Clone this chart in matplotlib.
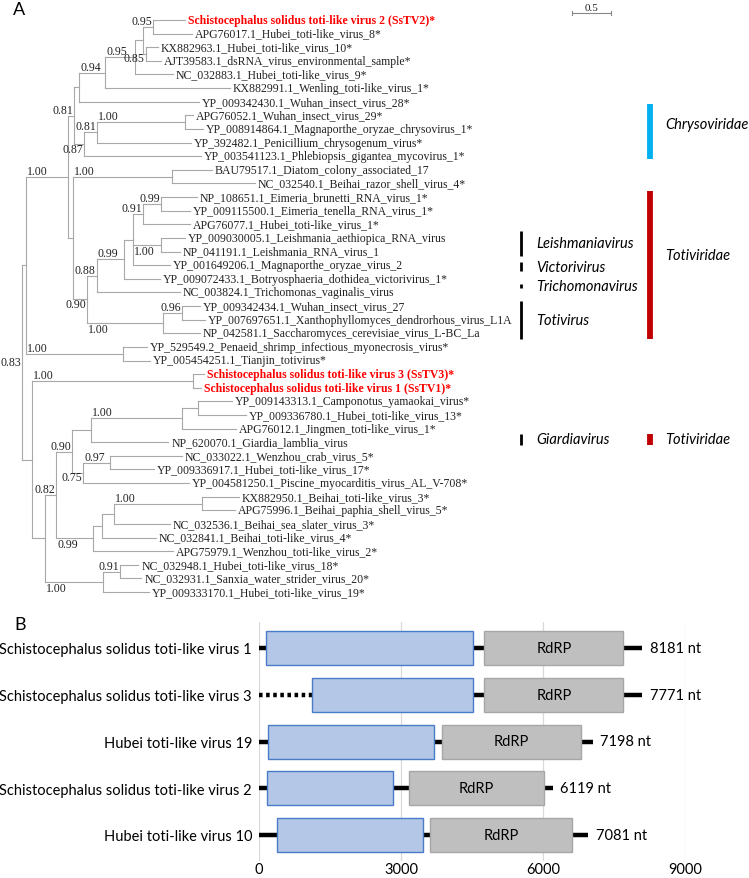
import matplotlib.pyplot as plt
from matplotlib.patches import Rectangle

# ---------------- Panel A: phylogeny ----------------
tip_names = [
    "Schistocephalus solidus toti-like virus 2 (SsTV2)*",
    "APG76017.1_Hubei_toti-like_virus_8*",
    "KX882963.1_Hubei_toti-like_virus_10*",
    "AJT39583.1_dsRNA_virus_environmental_sample*",
    "NC_032883.1_Hubei_toti-like_virus_9*",
    "KX882991.1_Wenling_toti-like_virus_1*",
    "YP_009342430.1_Wuhan_insect_virus_28*",
    "APG76052.1_Wuhan_insect_virus_29*",
    "YP_008914864.1_Magnaporthe_oryzae_chrysovirus_1*",
    "YP_392482.1_Penicillium_chrysogenum_virus*",
    "YP_003541123.1_Phlebiopsis_gigantea_mycovirus_1*",
    "BAU79517.1_Diatom_colony_associated_17",
    "NC_032540.1_Beihai_razor_shell_virus_4*",
    "NP_108651.1_Eimeria_brunetti_RNA_virus_1*",
    "YP_009115500.1_Eimeria_tenella_RNA_virus_1*",
    "APG76077.1_Hubei_toti-like_virus_1*",
    "YP_009030005.1_Leishmania_aethiopica_RNA_virus",
    "NP_041191.1_Leishmania_RNA_virus_1",
    "YP_001649206.1_Magnaporthe_oryzae_virus_2",
    "YP_009072433.1_Botryosphaeria_dothidea_victorivirus_1*",
    "NC_003824.1_Trichomonas_vaginalis_virus",
    "YP_009342434.1_Wuhan_insect_virus_27",
    "YP_007697651.1_Xanthophyllomyces_dendrorhous_virus_L1A",
    "NP_042581.1_Saccharomyces_cerevisiae_virus_L-BC_La",
    "YP_529549.2_Penaeid_shrimp_infectious_myonecrosis_virus*",
    "YP_005454251.1_Tianjin_totivirus*",
    "Schistocephalus solidus toti-like virus 3 (SsTV3)*",
    "Schistocephalus solidus toti-like virus 1 (SsTV1)*",
    "YP_009143313.1_Camponotus_yamaokai_virus*",
    "YP_009336780.1_Hubei_toti-like_virus_13*",
    "APG76012.1_Jingmen_toti-like_virus_1*",
    "NP_620070.1_Giardia_lamblia_virus",
    "NC_033022.1_Wenzhou_crab_virus_5*",
    "YP_009336917.1_Hubei_toti-like_virus_17*",
    "YP_004581250.1_Piscine_myocarditis_virus_AL_V-708*",
    "KX882950.1_Beihai_toti-like_virus_3*",
    "APG75996.1_Beihai_paphia_shell_virus_5*",
    "NC_032536.1_Beihai_sea_slater_virus_3*",
    "NC_032841.1_Beihai_toti-like_virus_4*",
    "APG75979.1_Wenzhou_toti-like_virus_2*",
    "NC_032948.1_Hubei_toti-like_virus_18*",
    "NC_032931.1_Sanxia_water_strider_virus_20*",
    "YP_009333170.1_Hubei_toti-like_virus_19*",
]
red_tips = [0, 26, 27]

# tree with tip ids t0..t42 and named internal nodes, branch lengths in substitutions/site
newick = (
    "(((((((((t0:0.41,t1:0.5)T1:0.128,(t2:0.154,t3:0.192)T2:0.038)T3:0.103,t4:0.487)T4:0.385,"
    "t5:1.603)T5:0.333,t6:1.538)T6:0.064,(((t7:0.103,t8:0.231)N1:1.128,t9:1.205)N2:0.167,"
    "t10:1.5)N3:0.128)H:0.077,((t11:0.513,t12:1.064)BN:1.269,((((((t13:0.462,t14:0.372)E1:0.231,"
    "t15:0.603)E2:0.128,(t16:0.308,t17:0.244)L1:0.359,t18:0.474)E3:0.115,t19:0.462)V:0.346,"
    "t20:1.064)W:0.128,((t21:0.231,t22:0.295)S2:0.244,t23:0.474)S1:0.974)TV2:0.179)K:0.064)G:0.538,"
    "(t24:0.308,t25:0.346)P:1.244)U:0.051,"
    "((t26:0.141,t27:0.103)SS:2.064,((((((t28:0.436,t29:0.615)J3:0.205,t30:0.692)J2:1.167,"
    "t31:0.987)J:0.244,((t32:0.923,t33:0.564)Q2:0.346,t34:1.359)Q:0.141)Gi:0.205,"
    "((((t35:0.474,t36:0.423)B4:1.128,t37:0.718)B3:0.154,t38:0.692)B2:0.115,t39:1.026)B:0.474)N:0.141,"
    "((t40:0.231,t41:0.269)H2:0.218,t42:0.59)H1:0.744)M:0.167)L0:0.128)R;"
)

support = {"T1": 0.95, "T2": 0.85, "T4": 0.95, "T5": 0.94, "H": 0.81, "N1": 1.00,
           "N2": 0.81, "N3": 0.87, "G": 1.00, "BN": 1.00, "E1": 0.99, "E2": 0.91,
           "L1": 1.00, "V": 0.99, "W": 0.88, "TV2": 0.90, "S2": 0.96, "S1": 1.00,
           "P": 1.00, "R": 0.83, "SS": 1.00, "N": 0.82, "Gi": 0.90, "J2": 1.00,
           "Q": 0.75, "Q2": 0.97, "B": 0.99, "B4": 1.00, "H1": 1.00, "H2": 0.91}
# where each support value sits: n = at node, p = at start of branch; a/b/c = above/below/centre
label_pos = {"T1": "na", "T2": "nb", "T4": "pa", "T5": "pa", "H": "na", "N1": "pa",
             "N2": "na", "N3": "nb", "G": "pa", "BN": "pa", "E1": "na", "E2": "na",
             "L1": "pb", "V": "pa", "W": "na", "TV2": "nb", "S2": "na", "S1": "pb",
             "P": "pa", "R": "nc", "SS": "pa", "N": "na", "Gi": "na", "J2": "pa",
             "Q": "nb", "Q2": "pa", "B": "pb", "B4": "pa", "H1": "pb", "H2": "na"}

family_names = ["Chrysoviridae", "Totiviridae", "Totiviridae"]
family_span = [(6.2, 10.2), (12.55, 23.4), (30.4, 31.2)]
family_text_y = [7.6, 17.25, 30.8]
family_colors = ["#00b0f0", "#c00000", "#c00000"]
genus_names = ["Leishmaniavirus", "Victorivirus", "Trichomonavirus", "Totivirus", "Giardiavirus"]
genus_span = [(15.5, 17.3), (17.8, 18.4), (19.4, 19.7), (20.6, 23.4), (30.4, 31.2)]

# ---------------- Panel B: genome maps ----------------
genomes = ["Schistocephalus solidus toti-like virus 1", "Schistocephalus solidus toti-like virus 3",
           "Hubei toti-like virus 19", "Schistocephalus solidus toti-like virus 2",
           "Hubei toti-like virus 10"]
genome_nt = [8181, 7771, 7198, 6119, 7081]
line_end = [8100, 8100, 7050, 6210, 6960]
orf1_start = [140, 1130, 190, 170, 380]
orf1_end = [4530, 4530, 3690, 2830, 3460]
rdrp_start = [4760, 4760, 3860, 3160, 3620]
rdrp_end = [7700, 7700, 6800, 6030, 6620]
partial_5p = [False, True, False, False, False]


def parse(s):
    pos = 0

    def node():
        nonlocal pos
        kids = []
        if s[pos] == "(":
            pos += 1
            while True:
                kids.append(node())
                if s[pos] == ",":
                    pos += 1
                else:
                    break
            pos += 1
        start = pos
        while s[pos] not in ":,);":
            pos += 1
        name = s[start:pos]
        length = 0.0
        if s[pos] == ":":
            pos += 1
            start = pos
            while s[pos] not in ",);":
                pos += 1
            length = float(s[start:pos])
        return {"name": name, "len": length, "kids": kids}

    return node()


def layout(n, x0):
    n["px"] = x0
    n["x"] = x0 + n["len"]
    if n["kids"]:
        for k in n["kids"]:
            layout(k, n["x"])
        n["y"] = (n["kids"][0]["y"] + n["kids"][-1]["y"]) / 2
    else:
        n["y"] = int(n["name"][1:])


def walk(n):
    yield n
    for k in n["kids"]:
        yield from walk(k)


tree = parse(newick)
layout(tree, 0.0)

fig = plt.figure(figsize=(7.49, 8.79), dpi=100)
W_PX, H_PX = 749, 879
ax = fig.add_axes([0, 1 - 610 / H_PX, 1, 610 / H_PX])
ax.set_xlim(-22 / 78, (W_PX - 22) / 78)
ax.set_ylim((610 - 21) / 13.62, -21 / 13.62)
ax.axis("off")

serif = "Liberation Serif"
line_c = "#a8a8a8"
for n in walk(tree):
    if n["kids"]:
        ax.plot([n["x"], n["x"]], [n["kids"][0]["y"], n["kids"][-1]["y"]], color=line_c, lw=0.8)
        for k in n["kids"]:
            ax.plot([n["x"], k["x"]], [k["y"], k["y"]], color=line_c, lw=0.8)
    else:
        i = n["y"]
        red = i in red_tips
        ax.text(n["x"] + 0.04, i, tip_names[i], va="center", ha="left", family=serif,
                fontsize=8.5, color="#ff0000" if red else "#222222",
                fontweight="bold" if red else "normal")
    if n["name"] in support:
        code = label_pos[n["name"]]
        dy = {"a": 4.3, "b": -3.2, "c": 0}[code[1]]
        if code[0] == "n":
            xy, dx, ha = (n["x"], n["y"]), -0.8, "right"
        else:
            xy, dx, ha = (n["px"], n["y"]), 0.8, "left"
        if code == "pb":
            dy = -4.3
        ax.annotate("%.2f" % support[n["name"]], xy, xytext=(dx, dy), textcoords="offset points",
                    ha=ha, va="center", family=serif, fontsize=8.5, color="#222222")

# scale bar
sb_x, sb_y = (572 - 22) / 78, (14 - 21) / 13.62
ax.plot([sb_x, sb_x + 0.5], [sb_y, sb_y], color="#888888", lw=0.8)
for xx in (sb_x, sb_x + 0.5):
    ax.plot([xx, xx], [sb_y - 0.18, sb_y + 0.18], color="#888888", lw=0.8)
ax.text(sb_x + 0.25, sb_y - 0.08, "0.5", ha="center", va="bottom", family=serif, fontsize=8,
        color="#222222")

# clade annotations
yt = ax.get_yaxis_transform()
ital = dict(family="Lato", style="italic", fontsize=10.5, color="black", va="center")
for name, (a, b), ty, c in zip(family_names, family_span, family_text_y, family_colors):
    ax.plot([649.5 / W_PX] * 2, [a, b], color=c, lw=4.2, transform=yt, solid_capstyle="butt")
    ax.text(665 / W_PX, ty, name, transform=yt, ha="left", **ital)
for name, (a, b) in zip(genus_names, genus_span):
    ax.plot([520.5 / W_PX] * 2, [a, b], color="black", lw=2, transform=yt, solid_capstyle="butt")
    ax.text(536 / W_PX, (a + b) / 2, name, transform=yt, ha="left", **ital)

fig.text(13 / W_PX, 1 - 10 / H_PX, "A", family="Lato", fontsize=13, va="center", ha="left")
fig.text(14 / W_PX, 1 - 625 / H_PX, "B", family="Lato", fontsize=13, va="center", ha="left")

# ---------------- Panel B drawing ----------------
step = 46.75
bx = fig.add_axes([259 / W_PX, 1 - 862 / H_PX, (685 - 259) / W_PX, (862 - 623) / H_PX])
bx.set_xlim(0, 9000)
bx.set_ylim((862 - 649) / step, -(649 - 623) / step)
bx.set_xticks([0, 3000, 6000, 9000])
bx.grid(axis="x", color="#d9d9d9", lw=0.9)
bx.set_axisbelow(True)
for s in bx.spines.values():
    s.set_visible(False)
bx.set_yticks(range(len(genomes)))
bx.set_yticklabels(genomes)
bx.tick_params(axis="y", length=0, labelsize=10.5, pad=5)
bx.tick_params(axis="x", length=0, labelsize=10.5, pad=1)
for lab in bx.get_xticklabels() + bx.get_yticklabels():
    lab.set_family("Lato")

h = 34 / step
for i in range(len(genomes)):
    if partial_5p[i]:
        bx.plot([0, orf1_start[i]], [i, i], color="black", lw=3.2, ls=(0, (0.8, 0.8)))
        bx.plot([orf1_end[i], line_end[i]], [i, i], color="black", lw=3.2, solid_capstyle="butt")
    else:
        bx.plot([0, line_end[i]], [i, i], color="black", lw=3.2, solid_capstyle="butt")
    bx.add_patch(Rectangle((orf1_start[i], i - h / 2), orf1_end[i] - orf1_start[i], h,
                           facecolor="#b4c7e7", edgecolor="#4a7bc8", lw=1, zorder=3))
    bx.add_patch(Rectangle((rdrp_start[i], i - h / 2), rdrp_end[i] - rdrp_start[i], h,
                           facecolor="#bfbfbf", edgecolor="#a6a6a6", lw=1, zorder=3))
    bx.text((rdrp_start[i] + rdrp_end[i]) / 2, i, "RdRP", ha="center", va="center",
            family="Lato", fontsize=10.5, zorder=4)
    bx.text(line_end[i] + 150, i, "%d nt" % genome_nt[i], ha="left", va="center",
            family="Lato", fontsize=10.5, clip_on=False)

fig.savefig("out.png", dpi=100)
